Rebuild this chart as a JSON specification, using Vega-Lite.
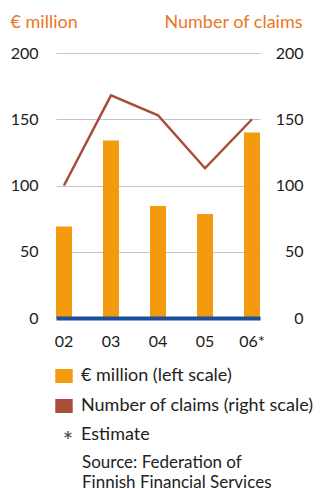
{
  "$schema": "https://vega.github.io/schema/vega-lite/v6.json",
  "width": 204,
  "height": 265,
  "autosize": {"type": "none"},
  "padding": {"left": 56, "top": 53, "right": 62, "bottom": 171},
  "background": "white",
  "config": {
    "font": "Lato",
    "view": {"stroke": null},
    "axis": {"labelFont": "Lato", "titleFont": "Lato", "labelColor": "#1a1a1a", "labelFontSize": 16, "ticks": false, "domain": false},
    "legend": {"labelFont": "Lato"}
  },
  "title": {
    "text": ["Source: Federation of", "Finnish Financial Services"],
    "orient": "bottom",
    "anchor": "start",
    "frame": "group",
    "dx": 26,
    "offset": 11,
    "font": "Lato",
    "fontSize": 17,
    "fontWeight": "normal",
    "color": "#222222",
    "lineHeight": 20,
    "baseline": "top"
  },
  "data": {
    "values": [
      {"year": "02", "million": 69, "claims": 100},
      {"year": "03", "million": 134, "claims": 168},
      {"year": "04", "million": 84.5, "claims": 153},
      {"year": "05", "million": 78.5, "claims": 113},
      {"year": "06", "million": 140, "claims": 150}
    ]
  },
  "encoding": {
    "x": {
      "field": "year",
      "type": "nominal",
      "sort": null,
      "scale": {"paddingInner": 0.66, "paddingOuter": 0},
      "axis": {
        "title": null,
        "labelAngle": 0,
        "domain": true,
        "domainColor": "#1b4f9c",
        "domainWidth": 4,
        "labelPadding": 15,
        "labelExpr": "datum.value == '06' ? '06*' : datum.value",
        "zindex": 1
      }
    }
  },
  "layer": [
    {
      "mark": {"type": "bar"},
      "encoding": {
        "y": {
          "field": "million",
          "type": "quantitative",
          "scale": {"domain": [0, 200], "nice": false},
          "axis": {
            "values": [0, 50, 100, 150, 200],
            "grid": true,
            "gridColor": "#c4c4c4",
            "gridWidth": 1,
            "labelPadding": 18,
            "title": "€ million",
            "titleAngle": 0,
            "titleAlign": "left",
            "titleBaseline": "alphabetic",
            "titleX": -46,
            "titleY": -26,
            "titleColor": "#ec7625",
            "titleFontSize": 18,
            "titleFontWeight": "normal"
          }
        },
        "color": {
          "datum": "€ million (left scale)",
          "scale": {
            "domain": ["€ million (left scale)", "Number of claims (right scale)", "Estimate"],
            "range": ["#f39a0e", "#a84c3c", "#555555"]
          },
          "legend": {
            "orient": "none",
            "legendX": -1,
            "legendY": 314,
            "title": null,
            "padding": 0,
            "symbolType": "M-1,-0.8H1V0.8H-1Z",
            "symbolSize": 256,
            "labelFontSize": 18,
            "labelColor": "#222222",
            "labelOffset": 8,
            "labelLimit": 400,
            "rowPadding": 10,
            "encode": {
              "symbols": {
                "update": {
                  "shape": [
                    {"test": "datum.value === 'Estimate'", "value": "M0.5,-0.5V0.5M0.07,-0.25L0.93,0.25M0.07,0.25L0.93,-0.25"},
                    {"value": "M-1,-0.8H1V0.8H-1Z"}
                  ],
                  "fill": [
                    {"test": "datum.value === 'Estimate'", "value": "transparent"},
                    {"scale": "color", "field": "value"}
                  ],
                  "stroke": [
                    {"test": "datum.value === 'Estimate'", "value": "#555555"},
                    {"value": "transparent"}
                  ],
                  "strokeWidth": {"value": 1.4},
                  "opacity": {"value": 1},
                  "fillOpacity": {"value": 1},
                  "strokeOpacity": {"value": 1}
                }
              }
            }
          }
        }
      }
    },
    {
      "mark": {"type": "line", "strokeWidth": 2.5},
      "encoding": {
        "y": {
          "field": "claims",
          "type": "quantitative",
          "scale": {"domain": [0, 200], "nice": false},
          "axis": {
            "orient": "right",
            "values": [0, 50, 100, 150, 200],
            "grid": false,
            "labelAlign": "right",
            "labelPadding": 43,
            "title": "Number of claims",
            "titleAngle": 0,
            "titleAlign": "right",
            "titleBaseline": "alphabetic",
            "titleX": 42,
            "titleY": -26,
            "titleColor": "#ec7625",
            "titleFontSize": 18,
            "titleFontWeight": "normal"
          }
        },
        "color": {"datum": "Number of claims (right scale)"}
      }
    }
  ],
  "resolve": {"scale": {"y": "independent"}}
}
